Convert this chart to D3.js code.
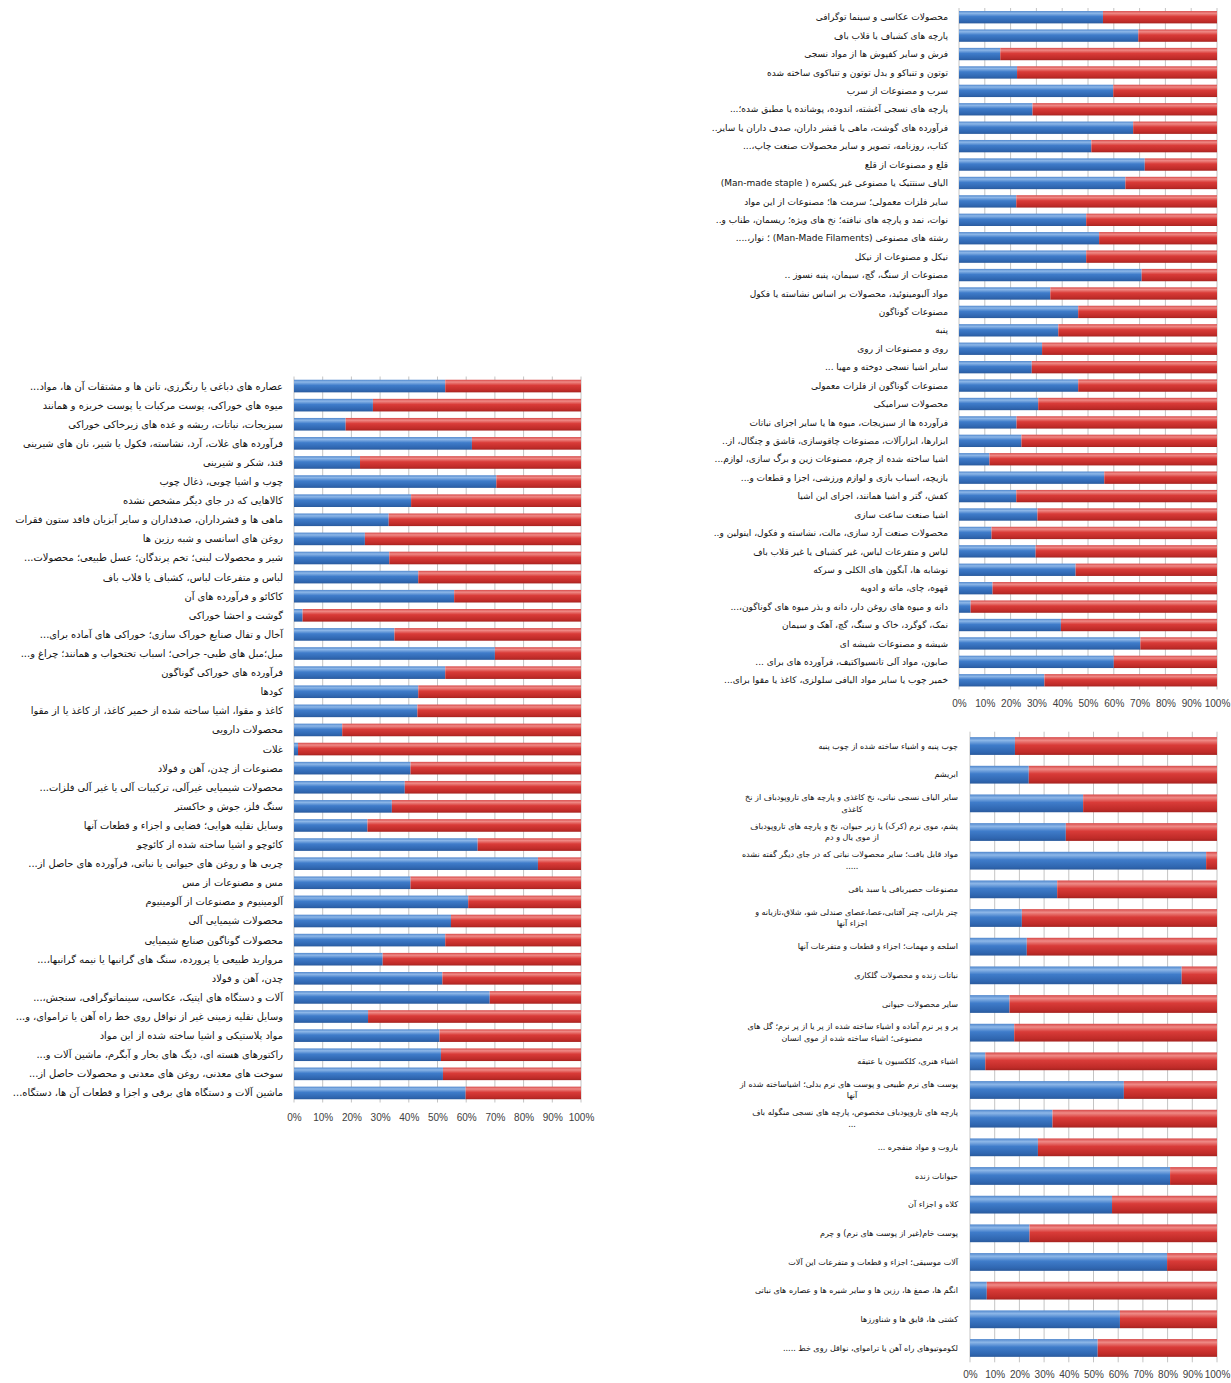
<!DOCTYPE html>
<html>
<head>
<meta charset="utf-8">
<script src="https://cdn.jsdelivr.net/npm/d3@7"></script>
<style>
  body { margin: 0; background: #fff; }
  svg { display: block; }
  .lbl { font-family: Tahoma, "DejaVu Sans", sans-serif; fill: #111; }
  .tick text { font-family: "Liberation Sans", Arial, sans-serif; font-size: 10px; fill: #404040; }
</style>
</head>
<body>
<svg id="chart" width="1231" height="1383"></svg>
<script>
// داده ها - سهم آبی (بقیه قرمز تا 100%)
var namesTR = [
  "محصولات عکاسی و سینما توگرافی",
  "پارچه های کشباف یا قلاب باف",
  "فرش و سایر کفپوش ها از مواد نسجی",
  "توتون و تنباکو و بدل توتون و تنباکوی ساخته شده",
  "سرب و مصنوعات از سرب",
  "پارچه های نسجی آغشته، اندوده، پوشانده یا مطبق شده؛...",
  "فرآورده های گوشت، ماهی یا قشر داران، صدف داران یا سایر..",
  "کتاب، روزنامه، تصویر و سایر محصولات صنعت چاپ،...",
  "قلع و مصنوعات از قلع",
  "الیاف سنتتیک یا مصنوعی غیر یکسره ( Man-made staple)",
  "سایر فلزات معمولی؛ سرمت ها؛ مصنوعات از این مواد",
  "نوات، نمد و پارچه های نبافته؛ نخ های ویژه؛ ریسمان، طناب و..",
  "رشته های مصنوعی (Man-Made Filaments) ؛ نوار،....",
  "نیکل و مصنوعات از نیکل",
  "مصنوعات از سنگ، گچ، سیمان، پنبه نسوز ..",
  "مواد آلبومینوئید، محصولات بر اساس نشاسته یا فکول",
  "مصنوعات گوناگون",
  "پنبه",
  "روی و مصنوعات از روی",
  "سایر اشیا نسجی دوخته و مهیا ...",
  "مصنوعات گوناگون از فلزات معمولی",
  "محصولات سرامیکی",
  "فرآورده ها از سبزیجات، میوه ها یا سایر اجزای نباتات",
  "ابزارها، ابزارآلات، مصنوعات چاقوسازی، قاشق و چنگال، از..",
  "اشیا ساخته شده از چرم، مصنوعات زین و برگ سازی، لوازم...",
  "بازیچه، اسباب بازی و لوازم ورزشی، اجزا و قطعات و...",
  "کفش، گتر و اشیا همانند، اجزای این اشیا",
  "اشیا صنعت ساعت سازی",
  "محصولات صنعت آرد سازی، مالت، نشاسته و فکول، اینولین و..",
  "لباس و متفرعات لباس، غیر کشباف یا غیر قلاب باف",
  "نوشابه ها، آبگون های الکلی و سرکه",
  "قهوه، چای، ماته و ادویه",
  "دانه و میوه های روغن دار، دانه و بذر میوه های گوناگون،...",
  "نمک، گوگرد، خاک و سنگ، گچ، آهک و سیمان",
  "شیشه و مصنوعات شیشه ای",
  "صابون، مواد آلی تانسیواکتیف، فرآورده های برای ...",
  "خمیر چوب یا سایر مواد الیافی سلولزی، کاغذ یا مقوا برای..."
];
var valsTR = [0.558, 0.695, 0.16, 0.225, 0.598, 0.285, 0.675, 0.513, 0.72, 0.645,
  0.222, 0.493, 0.543, 0.493, 0.708, 0.354, 0.462, 0.385, 0.322, 0.282,
  0.462, 0.307, 0.223, 0.242, 0.118, 0.563, 0.222, 0.304, 0.126, 0.297,
  0.452, 0.13, 0.045, 0.395, 0.703, 0.6, 0.331];

var namesL = [
  "عصاره های دباغی یا رنگرزی، تانن ها و مشتقات آن ها، مواد...",
  "میوه های خوراکی، پوست مرکبات یا پوست خربزه و همانند",
  "سبزیجات، نباتات، ریشه و غده های زیرخاکی خوراکی",
  "فرآورده های غلات، آرد، نشاسته، فکول یا شیر، نان های شیرینی",
  "قند، شکر و شیرینی",
  "چوب و اشیا چوبی، ذغال چوب",
  "کالاهایی که در جای دیگر مشخص نشده",
  "ماهی ها و قشرداران، صدفداران و سایر آبزیان فاقد ستون فقرات",
  "روغن های اسانسی و شبه رزین ها",
  "شیر و محصولات لبنی؛ تخم پرندگان؛ عسل طبیعی؛ محصولات...",
  "لباس و متفرعات لباس، کشباف یا قلاب باف",
  "کاکائو و فرآورده های آن",
  "گوشت و احشا خوراکی",
  "آخال و تفال صنایع خوراک سازی؛ خوراکی های آماده برای...",
  "مبل؛مبل های طبی- جراحی؛ اسباب تختخواب و همانند؛ چراغ و...",
  "فرآورده های خوراکی گوناگون",
  "کودها",
  "کاغذ و مقوا، اشیا ساخته شده از خمیر کاغذ، از کاغذ یا از مقوا",
  "محصولات دارویی",
  "غلات",
  "مصنوعات از چدن، آهن و فولاد",
  "محصولات شیمیایی غیرآلی، ترکیبات آلی یا غیر آلی فلزات...",
  "سنگ فلز، جوش و خاکستر",
  "وسایل نقلیه هوایی؛ فضایی و اجزاء و قطعات آنها",
  "کائوچو و اشیا ساخته شده از کائوچو",
  "چربی ها و روغن های حیوانی یا نباتی، فرآورده های حاصل از...",
  "مس و مصنوعات از مس",
  "آلومینیوم و مصنوعات از آلومینیوم",
  "محصولات شیمیایی آلی",
  "محصولات گوناگون صنایع شیمیایی",
  "مروارید طبیعی یا پرورده، سنگ های گرانبها یا نیمه گرانبها،...",
  "چدن، آهن و فولاد",
  "آلات و دستگاه های اپتیک، عکاسی، سینماتوگرافی، سنجش،...",
  "وسایل نقلیه زمینی غیر از نواقل روی خط راه آهن یا تراموای، و...",
  "مواد پلاستیکی و اشیا ساخته شده از این مواد",
  "راکتورهای هسته ای، دیگ های بخار و آبگرم، ماشین آلات و...",
  "سوخت های معدنی، روغن های معدنی و محصولات حاصل از...",
  "ماشین آلات و دستگاه های برقی و اجزا و قطعات آن ها، دستگاه..."
];
var valsL = [0.527, 0.275, 0.18, 0.62, 0.23, 0.705, 0.408, 0.33, 0.247, 0.332,
  0.433, 0.558, 0.03, 0.35, 0.70, 0.527, 0.433, 0.43, 0.168, 0.014,
  0.406, 0.386, 0.341, 0.256, 0.64, 0.85, 0.406, 0.607, 0.547, 0.527,
  0.309, 0.517, 0.682, 0.258, 0.507, 0.512, 0.519, 0.598];

var namesBR = [
  "چوب پنبه و اشیاء ساخته شده از چوب پنبه",
  "ابریشم",
  "سایر الیاف نسجی نباتی، نخ کاغذی و پارچه های تاروپودباف از نخ\nکاغذی",
  "پشم، موی نرم (کرک) یا زبر حیوان، نخ و پارچه های تاروپودباف\nاز موی یال و دم",
  "مواد قابل بافت؛ سایر محصولات نباتی که در جای دیگر گفته نشده\n.....",
  "مصنوعات حصیربافی یا سبد بافی",
  "چتر بارانی، چتر آفتابی،عصا،عصای صندلی شو، شلاق،تازیانه و\nاجزاء آنها",
  "اسلحه و مهمات؛ اجزاء و قطعات و متفرعات آنها",
  "نباتات زنده و محصولات گلکاری",
  "سایر محصولات حیوانی",
  "پر و پر نرم آماده و اشیاء ساخته شده از پر یا از پر نرم؛ گل های\nمصنوعی؛ اشیاء ساخته شده از موی انسان",
  "اشیاء هنری، کلکسیون یا عتیقه",
  "پوست های نرم طبیعی و پوست های نرم بدلی؛ اشیاساخته شده از\nآنها",
  "پارچه های تاروپودباف مخصوص، پارچه های نسجی منگوله باف\n...",
  "باروت و مواد منفجره ...",
  "حیوانات زنده",
  "کلاه و اجزاء آن",
  "پوست خام(غیر از پوست های نرم) و چرم",
  "آلات موسیقی؛ اجزاء و قطعات و متفرعات این آلات",
  "انگم ها، صمغ ها، رزین ها و سایر شیره ها و عصاره های نباتی",
  "کشتی ها، قایق ها و شناورزها",
  "لکوموتیوهای راه آهن یا تراموای، نواقل روی خط ....."
];
var valsBR = [0.182, 0.238, 0.458, 0.388, 0.956, 0.353, 0.21, 0.23, 0.857, 0.16,
  0.179, 0.062, 0.623, 0.334, 0.275, 0.81, 0.575, 0.241, 0.798, 0.068,
  0.607, 0.517];

var tickVals = [0, 0.1, 0.2, 0.3, 0.4, 0.5, 0.6, 0.7, 0.8, 0.9, 1];

var svg = d3.select("#chart");
var defs = svg.append("defs");

function grad(id, stops) {
  var g = defs.append("linearGradient").attr("id", id)
    .attr("x1", 0).attr("y1", 0).attr("x2", 0).attr("y2", 1);
  stops.forEach(function(s) {
    g.append("stop").attr("offset", s[0]).attr("stop-color", s[1]);
  });
}
grad("gBlue", [[0, "#4f86cc"], [0.18, "#8db7e8"], [0.45, "#3f7cca"], [0.85, "#2f66b0"], [1, "#2a5a9c"]]);
grad("gRed", [[0, "#d64848"], [0.18, "#ef8a86"], [0.45, "#d93b38"], [0.85, "#bf2b28"], [1, "#a52320"]]);

// یک پنل: نمودار میله ای 100% انباشته
function panel(names, vals, o) {
  var g = svg.append("g");
  var x = d3.scaleLinear().domain([0, 1]).range([o.x0, o.x1]);
  var y = d3.scaleBand().domain(d3.range(names.length))
    .range([o.top, o.bottom]).paddingInner(o.pad).paddingOuter(o.pad / 2);

  // خطوط شبکه
  g.append("g").selectAll("line").data(tickVals).enter().append("line")
    .attr("x1", function(d) { return x(d); }).attr("x2", function(d) { return x(d); })
    .attr("y1", o.top).attr("y2", o.bottom)
    .attr("stroke", "#c4c4c4").attr("stroke-width", 1);

  var rows = g.append("g").selectAll("g").data(vals).enter().append("g");
  rows.append("rect")
    .attr("x", x(0))
    .attr("y", function(d, i) { return y(i); })
    .attr("width", function(d) { return x(d) - x(0); })
    .attr("height", y.bandwidth())
    .attr("fill", "url(#gBlue)");
  rows.append("rect")
    .attr("x", function(d) { return x(d); })
    .attr("y", function(d, i) { return y(i); })
    .attr("width", function(d) { return x(1) - x(d); })
    .attr("height", y.bandwidth())
    .attr("fill", "url(#gRed)");

  // برچسب ها
  var lbl = g.append("g").selectAll("text").data(names).enter().append("text")
    .attr("class", "lbl")
    .style("font-size", o.fs + "px")
    .attr("direction", "rtl")
    .attr("y", function(d, i) { return y(i) + y.bandwidth() / 2; });
  lbl.each(function(d) {
    var t = d3.select(this), parts = d.split("\n");
    if (parts.length == 1) {
      t.attr("x", o.lx).attr("text-anchor", "start").attr("dy", "0.35em").text(d);
    } else {
      t.attr("text-anchor", "middle");
      parts.forEach(function(p, k) {
        t.append("tspan").attr("x", o.lc)
          .attr("dy", k == 0 ? "-0.4em" : "1.45em").text(p);
      });
    }
  });
  // سطرهای دو خطی: خط اول راست چین
  lbl.selectAll("tspan").filter(function(d, k) { return k == 0; })
    .attr("x", o.lx).attr("text-anchor", "start");

  var ax = d3.axisBottom(x).tickValues(tickVals).tickFormat(d3.format(".0%")).tickSize(0).tickPadding(0);
  var a = g.append("g").attr("transform", "translate(0," + (o.bottom + o.axOff) + ")").call(ax);
  a.select(".domain").remove();
}

panel(namesTR, valsTR, { x0: 959, x1: 1217, top: 8, bottom: 689.5, pad: 0.33, lx: 948, lc: 850, axOff: 10, fs: 9 });
panel(namesL, valsL, { x0: 294, x1: 581, top: 376.5, bottom: 1102.5, pad: 0.34, lx: 283, lc: 150, axOff: 11, fs: 9.9 });
panel(namesBR, valsBR, { x0: 970, x1: 1217, top: 731.7, bottom: 1362.3, pad: 0.38, lx: 958, lc: 852, axOff: 9, fs: 8 });
</script>
</body>
</html>
